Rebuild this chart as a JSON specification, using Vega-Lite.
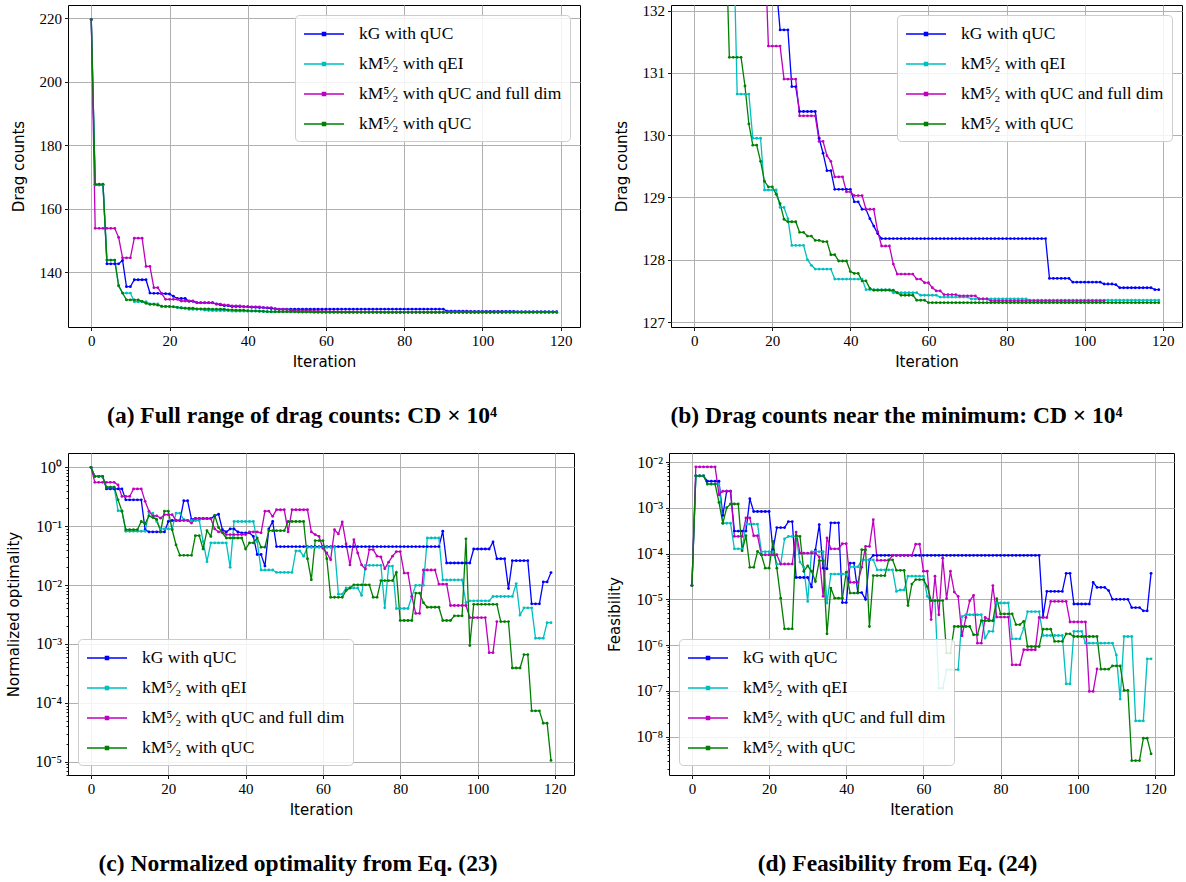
{
  "$schema": "https://vega.github.io/schema/vega-lite/v6.json",
  "background": "white",
  "padding": {"left": 6, "top": 3, "right": 2, "bottom": 2},
  "config": {
    "view": {"stroke": "black", "strokeWidth": 1},
    "axis": {
      "grid": true, "gridColor": "#b0b0b0", "gridWidth": 1,
      "domain": false, "ticks": true, "tickColor": "black", "tickSize": 3.5, "tickWidth": 0.9,
      "labelFont": "Liberation Serif", "labelFontSize": 15, "labelColor": "black", "labelPadding": 3,
      "labelOverlap": false, "labelFlush": false,
      "titleFont": "DejaVu Sans", "titleFontSize": 15, "titleFontWeight": "normal", "titleColor": "black"
    },
    "axisX": {"titlePadding": 6},
    "axisY": {"titlePadding": 13},
    "legend": {
      "offset": 10, "fillColor": "rgba(255,255,255,0.85)", "strokeColor": "#cccccc", "cornerRadius": 4,
      "padding": 8, "labelFont": "Liberation Serif", "labelFontSize": 17.5, "labelColor": "black", "labelLimit": 400,
      "symbolType": "M-1,0H3M0.85,-0.15H1.15V0.15H0.85Z", "symbolSize": 400, "symbolStrokeWidth": 1.5,
      "rowPadding": 10, "labelOffset": 34
    },
    "title": {"font": "Liberation Serif", "fontSize": 23.5, "fontWeight": "bold", "color": "black", "orient": "bottom", "anchor": "middle", "offset": 34}
  },
  "datasets": {
    "drag": [
      {"i":0,"a":219.6,"b":219.6,"c":219.6,"d":219.6},
      {"i":1,"a":167.5,"b":167.5,"c":153.8,"d":167.7},
      {"i":2,"a":167.5,"b":167.5,"c":153.8,"d":167.7},
      {"i":3,"a":167.5,"b":167.5,"c":153.8,"d":167.7},
      {"i":4,"a":142.6,"b":143.8,"c":153.8,"d":143.8},
      {"i":5,"a":142.6,"b":143.8,"c":153.8,"d":143.8},
      {"i":6,"a":142.6,"b":143.8,"c":153.8,"d":143.8},
      {"i":7,"a":142.6,"b":135.7,"c":150.9,"d":135.7},
      {"i":8,"a":143.7,"b":133.4,"c":144.5,"d":133.4},
      {"i":9,"a":135.4,"b":133.4,"c":144.5,"d":131.25},
      {"i":10,"a":135.4,"b":133.4,"c":144.5,"d":131.25},
      {"i":11,"a":137.6,"b":130.66,"c":150.7,"d":131.25},
      {"i":12,"a":137.6,"b":130.66,"c":150.7,"d":131.25},
      {"i":13,"a":137.6,"b":130.66,"c":150.7,"d":130.79},
      {"i":14,"a":137.6,"b":130.66,"c":141.8,"d":130.18},
      {"i":15,"a":133.4,"b":129.95,"c":141.8,"d":129.84},
      {"i":16,"a":133.3,"b":129.95,"c":135.1,"d":129.84},
      {"i":17,"a":133.3,"b":129.95,"c":135.1,"d":129.58},
      {"i":18,"a":133.2,"b":129.12,"c":133.2,"d":129.26},
      {"i":19,"a":133.2,"b":129.12,"c":131.43,"d":129.17},
      {"i":20,"a":133.1,"b":129.12,"c":131.43,"d":129.17},
      {"i":21,"a":132.4,"b":129.12,"c":131.43,"d":129.05},
      {"i":22,"a":131.69,"b":128.84,"c":131.43,"d":128.9},
      {"i":23,"a":131.69,"b":128.84,"c":130.9,"d":128.65},
      {"i":24,"a":131.69,"b":128.66,"c":130.9,"d":128.61},
      {"i":25,"a":130.78,"b":128.23,"c":130.9,"d":128.61},
      {"i":26,"a":130.78,"b":128.23,"c":130.9,"d":128.61},
      {"i":27,"a":130.38,"b":128.23,"c":130.31,"d":128.44},
      {"i":28,"a":130.38,"b":128.23,"c":130.31,"d":128.44},
      {"i":29,"a":130.38,"b":128.0,"c":130.31,"d":128.38},
      {"i":30,"a":130.38,"b":127.91,"c":130.31,"d":128.38},
      {"i":31,"a":130.38,"b":127.85,"c":130.31,"d":128.31},
      {"i":32,"a":129.95,"b":127.85,"c":129.9,"d":128.31},
      {"i":33,"a":129.71,"b":127.85,"c":129.9,"d":128.29},
      {"i":34,"a":129.43,"b":127.85,"c":129.67,"d":128.29},
      {"i":35,"a":129.43,"b":127.85,"c":129.58,"d":128.08},
      {"i":36,"a":129.13,"b":127.69,"c":129.33,"d":128.08},
      {"i":37,"a":129.13,"b":127.69,"c":129.33,"d":127.98},
      {"i":38,"a":129.13,"b":127.69,"c":129.33,"d":127.98},
      {"i":39,"a":129.13,"b":127.69,"c":129.09,"d":127.98},
      {"i":40,"a":129.13,"b":127.69,"c":129.09,"d":127.81},
      {"i":41,"a":128.93,"b":127.69,"c":129.03,"d":127.78},
      {"i":42,"a":128.93,"b":127.69,"c":129.03,"d":127.78},
      {"i":43,"a":128.81,"b":127.69,"c":129.03,"d":127.66},
      {"i":44,"a":128.81,"b":127.52,"c":128.81,"d":127.66},
      {"i":45,"a":128.66,"b":127.52,"c":128.81,"d":127.54},
      {"i":46,"a":128.54,"b":127.52,"c":128.81,"d":127.51},
      {"i":47,"a":128.42,"b":127.52,"c":128.45,"d":127.51},
      {"i":48,"a":128.34,"b":127.52,"c":128.22,"d":127.51},
      {"i":49,"a":128.34,"b":127.52,"c":128.22,"d":127.51},
      {"i":50,"a":128.34,"b":127.52,"c":128.22,"d":127.51},
      {"i":51,"a":128.34,"b":127.47,"c":127.93,"d":127.51},
      {"i":52,"a":128.34,"b":127.47,"c":127.77,"d":127.47},
      {"i":53,"a":128.34,"b":127.47,"c":127.77,"d":127.43},
      {"i":54,"a":128.34,"b":127.47,"c":127.77,"d":127.43},
      {"i":55,"a":128.34,"b":127.47,"c":127.77,"d":127.43},
      {"i":56,"a":128.34,"b":127.47,"c":127.77,"d":127.43},
      {"i":57,"a":128.34,"b":127.47,"c":127.69,"d":127.35},
      {"i":58,"a":128.34,"b":127.43,"c":127.69,"d":127.35},
      {"i":59,"a":128.34,"b":127.43,"c":127.63,"d":127.35},
      {"i":60,"a":128.34,"b":127.43,"c":127.63,"d":127.31},
      {"i":61,"a":128.34,"b":127.43,"c":127.55,"d":127.31},
      {"i":62,"a":128.34,"b":127.43,"c":127.5,"d":127.31},
      {"i":63,"a":128.34,"b":127.4,"c":127.5,"d":127.31},
      {"i":64,"a":128.34,"b":127.4,"c":127.44,"d":127.31},
      {"i":65,"a":128.34,"b":127.4,"c":127.44,"d":127.31},
      {"i":66,"a":128.34,"b":127.4,"c":127.44,"d":127.31},
      {"i":67,"a":128.34,"b":127.4,"c":127.44,"d":127.31},
      {"i":68,"a":128.34,"b":127.4,"c":127.42,"d":127.31},
      {"i":69,"a":128.34,"b":127.4,"c":127.42,"d":127.31},
      {"i":70,"a":128.34,"b":127.4,"c":127.42,"d":127.31},
      {"i":71,"a":128.34,"b":127.37,"c":127.42,"d":127.31},
      {"i":72,"a":128.34,"b":127.37,"c":127.42,"d":127.31},
      {"i":73,"a":128.34,"b":127.37,"c":127.37,"d":127.31},
      {"i":74,"a":128.34,"b":127.37,"c":127.37,"d":127.31},
      {"i":75,"a":128.34,"b":127.37,"c":127.37,"d":127.31},
      {"i":76,"a":128.34,"b":127.37,"c":127.34,"d":127.31},
      {"i":77,"a":128.34,"b":127.37,"c":127.34,"d":127.31},
      {"i":78,"a":128.34,"b":127.37,"c":127.34,"d":127.31},
      {"i":79,"a":128.34,"b":127.37,"c":127.34,"d":127.31},
      {"i":80,"a":128.34,"b":127.37,"c":127.34,"d":127.31},
      {"i":81,"a":128.34,"b":127.37,"c":127.34,"d":127.31},
      {"i":82,"a":128.34,"b":127.37,"c":127.34,"d":127.31},
      {"i":83,"a":128.34,"b":127.37,"c":127.34,"d":127.31},
      {"i":84,"a":128.34,"b":127.37,"c":127.34,"d":127.31},
      {"i":85,"a":128.34,"b":127.37,"c":127.34,"d":127.31},
      {"i":86,"a":128.34,"b":127.35,"c":127.34,"d":127.31},
      {"i":87,"a":128.34,"b":127.35,"c":127.34,"d":127.31},
      {"i":88,"a":128.34,"b":127.35,"c":127.34,"d":127.31},
      {"i":89,"a":128.34,"b":127.35,"c":127.34,"d":127.31},
      {"i":90,"a":128.34,"b":127.35,"c":127.34,"d":127.31},
      {"i":91,"a":127.7,"b":127.35,"c":127.34,"d":127.31},
      {"i":92,"a":127.7,"b":127.35,"c":127.34,"d":127.31},
      {"i":93,"a":127.7,"b":127.35,"c":127.34,"d":127.31},
      {"i":94,"a":127.7,"b":127.35,"c":127.34,"d":127.31},
      {"i":95,"a":127.7,"b":127.35,"c":127.34,"d":127.31},
      {"i":96,"a":127.7,"b":127.35,"c":127.34,"d":127.31},
      {"i":97,"a":127.64,"b":127.35,"c":127.34,"d":127.31},
      {"i":98,"a":127.64,"b":127.35,"c":127.34,"d":127.31},
      {"i":99,"a":127.64,"b":127.35,"c":127.34,"d":127.31},
      {"i":100,"a":127.64,"b":127.35,"c":127.34,"d":127.31},
      {"i":101,"a":127.64,"b":127.35,"c":127.34,"d":127.31},
      {"i":102,"a":127.64,"b":127.35,"c":127.34,"d":127.31},
      {"i":103,"a":127.64,"b":127.35,"c":127.34,"d":127.31},
      {"i":104,"a":127.64,"b":127.35,"c":127.34,"d":127.31},
      {"i":105,"a":127.61,"b":127.35,"c":127.34,"d":127.31},
      {"i":106,"a":127.61,"b":127.35,"d":127.31},
      {"i":107,"a":127.61,"b":127.35,"d":127.31},
      {"i":108,"a":127.6,"b":127.35,"d":127.31},
      {"i":109,"a":127.55,"b":127.35,"d":127.31},
      {"i":110,"a":127.55,"b":127.35,"d":127.31},
      {"i":111,"a":127.55,"b":127.35,"d":127.31},
      {"i":112,"a":127.55,"b":127.35,"d":127.31},
      {"i":113,"a":127.55,"b":127.35,"d":127.31},
      {"i":114,"a":127.55,"b":127.35,"d":127.31},
      {"i":115,"a":127.55,"b":127.35,"d":127.31},
      {"i":116,"a":127.55,"b":127.35,"d":127.31},
      {"i":117,"a":127.55,"b":127.35,"d":127.31},
      {"i":118,"a":127.52,"b":127.35,"d":127.31},
      {"i":119,"a":127.52,"b":127.35,"d":127.31}
    ],
    "opt": [
      {"i":0,"a":1,"b":1,"c":1,"d":1},
      {"i":1,"a":0.7,"b":0.7,"c":0.556,"d":0.7},
      {"i":2,"a":0.7,"b":0.7,"c":0.556,"d":0.7},
      {"i":3,"a":0.7,"b":0.7,"c":0.556,"d":0.7},
      {"i":4,"a":0.43,"b":0.46,"c":0.556,"d":0.46},
      {"i":5,"a":0.43,"b":0.46,"c":0.556,"d":0.46},
      {"i":6,"a":0.43,"b":0.46,"c":0.556,"d":0.46},
      {"i":7,"a":0.43,"b":0.183,"c":0.5,"d":0.28},
      {"i":8,"a":0.43,"b":0.183,"c":0.32,"d":0.18},
      {"i":9,"a":0.28,"b":0.082,"c":0.32,"d":0.087},
      {"i":10,"a":0.28,"b":0.082,"c":0.32,"d":0.087},
      {"i":11,"a":0.28,"b":0.082,"c":0.43,"d":0.087},
      {"i":12,"a":0.28,"b":0.082,"c":0.43,"d":0.087},
      {"i":13,"a":0.28,"b":0.082,"c":0.43,"d":0.12},
      {"i":14,"a":0.087,"b":0.082,"c":0.264,"d":0.11},
      {"i":15,"a":0.08,"b":0.167,"c":0.18,"d":0.15},
      {"i":16,"a":0.08,"b":0.167,"c":0.15,"d":0.14},
      {"i":17,"a":0.08,"b":0.12,"c":0.15,"d":0.13},
      {"i":18,"a":0.08,"b":0.09,"c":0.137,"d":0.08},
      {"i":19,"a":0.08,"b":0.09,"c":0.157,"d":0.18},
      {"i":20,"a":0.12,"b":0.09,"c":0.157,"d":0.18},
      {"i":21,"a":0.125,"b":0.09,"c":0.157,"d":0.087},
      {"i":22,"a":0.125,"b":0.167,"c":0.125,"d":0.048},
      {"i":23,"a":0.125,"b":0.167,"c":0.125,"d":0.032},
      {"i":24,"a":0.27,"b":0.13,"c":0.125,"d":0.032},
      {"i":25,"a":0.27,"b":0.125,"c":0.125,"d":0.032},
      {"i":26,"a":0.13,"b":0.125,"c":0.113,"d":0.032},
      {"i":27,"a":0.135,"b":0.125,"c":0.134,"d":0.069},
      {"i":28,"a":0.135,"b":0.125,"c":0.134,"d":0.069},
      {"i":29,"a":0.135,"b":0.055,"c":0.134,"d":0.041},
      {"i":30,"a":0.135,"b":0.025,"c":0.134,"d":0.084},
      {"i":31,"a":0.135,"b":0.052,"c":0.134,"d":0.067},
      {"i":32,"a":0.15,"b":0.052,"c":0.09,"d":0.153},
      {"i":33,"a":0.16,"b":0.052,"c":0.08,"d":0.095},
      {"i":34,"a":0.087,"b":0.052,"c":0.08,"d":0.077},
      {"i":35,"a":0.08,"b":0.052,"c":0.072,"d":0.063},
      {"i":36,"a":0.09,"b":0.02,"c":0.072,"d":0.063},
      {"i":37,"a":0.09,"b":0.12,"c":0.072,"d":0.063},
      {"i":38,"a":0.08,"b":0.12,"c":0.072,"d":0.063},
      {"i":39,"a":0.077,"b":0.12,"c":0.072,"d":0.063},
      {"i":40,"a":0.077,"b":0.12,"c":0.072,"d":0.041},
      {"i":41,"a":0.077,"b":0.12,"c":0.08,"d":0.052},
      {"i":42,"a":0.067,"b":0.12,"c":0.08,"d":0.052},
      {"i":43,"a":0.033,"b":0.055,"c":0.08,"d":0.063},
      {"i":44,"a":0.033,"b":0.018,"c":0.077,"d":0.044},
      {"i":45,"a":0.021,"b":0.018,"c":0.18,"d":0.044},
      {"i":46,"a":0.09,"b":0.018,"c":0.18,"d":0.084},
      {"i":47,"a":0.12,"b":0.018,"c":0.147,"d":0.084},
      {"i":48,"a":0.045,"b":0.0164,"c":0.19,"d":0.084},
      {"i":49,"a":0.045,"b":0.0164,"c":0.19,"d":0.084},
      {"i":50,"a":0.045,"b":0.0164,"c":0.19,"d":0.084},
      {"i":51,"a":0.045,"b":0.0164,"c":0.08,"d":0.12},
      {"i":52,"a":0.045,"b":0.0164,"c":0.19,"d":0.12},
      {"i":53,"a":0.045,"b":0.038,"c":0.19,"d":0.12},
      {"i":54,"a":0.045,"b":0.038,"c":0.19,"d":0.12},
      {"i":55,"a":0.045,"b":0.031,"c":0.19,"d":0.12},
      {"i":56,"a":0.045,"b":0.0436,"c":0.19,"d":0.028},
      {"i":57,"a":0.045,"b":0.0436,"c":0.08,"d":0.0123},
      {"i":58,"a":0.045,"b":0.0436,"c":0.072,"d":0.057},
      {"i":59,"a":0.045,"b":0.0436,"c":0.067,"d":0.057},
      {"i":60,"a":0.045,"b":0.0436,"c":0.042,"d":0.057},
      {"i":61,"a":0.045,"b":0.0436,"c":0.035,"d":0.028},
      {"i":62,"a":0.045,"b":0.0436,"c":0.027,"d":0.0062},
      {"i":63,"a":0.045,"b":0.0436,"c":0.087,"d":0.0062},
      {"i":64,"a":0.045,"b":0.007,"c":0.074,"d":0.0062},
      {"i":65,"a":0.045,"b":0.007,"c":0.118,"d":0.0062},
      {"i":66,"a":0.045,"b":0.0089,"c":0.05,"d":0.0081},
      {"i":67,"a":0.045,"b":0.0089,"c":0.022,"d":0.0089},
      {"i":68,"a":0.045,"b":0.0089,"c":0.059,"d":0.0101},
      {"i":69,"a":0.045,"b":0.0089,"c":0.035,"d":0.0101},
      {"i":70,"a":0.045,"b":0.0067,"c":0.022,"d":0.0101},
      {"i":71,"a":0.045,"b":0.0216,"c":0.0187,"d":0.0101},
      {"i":72,"a":0.045,"b":0.0216,"c":0.04,"d":0.0101},
      {"i":73,"a":0.045,"b":0.0216,"c":0.04,"d":0.0062},
      {"i":74,"a":0.045,"b":0.0216,"c":0.031,"d":0.0062},
      {"i":75,"a":0.045,"b":0.0216,"c":0.03,"d":0.0119},
      {"i":76,"a":0.045,"b":0.0041,"c":0.019,"d":0.0119},
      {"i":77,"a":0.045,"b":0.021,"c":0.0245,"d":0.0119},
      {"i":78,"a":0.045,"b":0.021,"c":0.031,"d":0.0119},
      {"i":79,"a":0.045,"b":0.004,"c":0.037,"d":0.0164},
      {"i":80,"a":0.045,"b":0.004,"c":0.037,"d":0.0025},
      {"i":81,"a":0.045,"b":0.004,"c":0.016,"d":0.0025},
      {"i":82,"a":0.045,"b":0.004,"c":0.016,"d":0.0025},
      {"i":83,"a":0.045,"b":0.0064,"c":0.0064,"d":0.0025},
      {"i":84,"a":0.045,"b":0.0099,"c":0.0033,"d":0.0073},
      {"i":85,"a":0.045,"b":0.0099,"c":0.0033,"d":0.0073},
      {"i":86,"a":0.045,"b":0.0099,"c":0.018,"d":0.005},
      {"i":87,"a":0.045,"b":0.063,"c":0.018,"d":0.0042},
      {"i":88,"a":0.045,"b":0.063,"c":0.018,"d":0.0042},
      {"i":89,"a":0.045,"b":0.063,"c":0.018,"d":0.0042},
      {"i":90,"a":0.045,"b":0.063,"c":0.0104,"d":0.0042},
      {"i":91,"a":0.082,"b":0.0122,"c":0.0104,"d":0.0025},
      {"i":92,"a":0.0237,"b":0.0122,"c":0.0104,"d":0.0025},
      {"i":93,"a":0.0237,"b":0.0122,"c":0.0045,"d":0.0025},
      {"i":94,"a":0.0237,"b":0.0122,"c":0.0045,"d":0.003},
      {"i":95,"a":0.0237,"b":0.0122,"c":0.0045,"d":0.003},
      {"i":96,"a":0.0237,"b":0.0122,"c":0.0045,"d":0.003},
      {"i":97,"a":0.0237,"b":0.005,"c":0.0045,"d":0.061},
      {"i":98,"a":0.0237,"b":0.0054,"c":0.0028,"d":0.00094},
      {"i":99,"a":0.041,"b":0.0054,"c":0.0028,"d":0.0047},
      {"i":100,"a":0.041,"b":0.0054,"c":0.0028,"d":0.0047},
      {"i":101,"a":0.041,"b":0.0054,"c":0.0028,"d":0.0047},
      {"i":102,"a":0.041,"b":0.0054,"c":0.0028,"d":0.0047},
      {"i":103,"a":0.041,"b":0.0054,"c":0.00071,"d":0.0047},
      {"i":104,"a":0.054,"b":0.0064,"c":0.00071,"d":0.0047},
      {"i":105,"a":0.028,"b":0.0064,"c":0.0024,"d":0.0047},
      {"i":106,"a":0.028,"b":0.0064,"d":0.0024},
      {"i":107,"a":0.028,"b":0.0064,"d":0.0024},
      {"i":108,"a":0.0087,"b":0.0064,"d":0.0024},
      {"i":109,"a":0.026,"b":0.0064,"d":0.00039},
      {"i":110,"a":0.026,"b":0.0106,"d":0.00039},
      {"i":111,"a":0.026,"b":0.0031,"d":0.00039},
      {"i":112,"a":0.026,"b":0.0041,"d":0.00066},
      {"i":113,"a":0.026,"b":0.0041,"d":0.00066},
      {"i":114,"a":0.0048,"b":0.0041,"d":0.000073},
      {"i":115,"a":0.0048,"b":0.00125,"d":0.000073},
      {"i":116,"a":0.0048,"b":0.00125,"d":0.000073},
      {"i":117,"a":0.0113,"b":0.00125,"d":0.000045},
      {"i":118,"a":0.0113,"b":0.0023,"d":0.000045},
      {"i":119,"a":0.0163,"b":0.0023,"d":0.0000105}
    ],
    "feas": [
      {"i":0,"a":2e-5,"b":2e-5,"c":2e-5,"d":2e-5},
      {"i":1,"a":5e-3,"b":5e-3,"c":7.8e-3,"d":5e-3},
      {"i":2,"a":5e-3,"b":5e-3,"c":7.8e-3,"d":5e-3},
      {"i":3,"a":5e-3,"b":5e-3,"c":7.8e-3,"d":5e-3},
      {"i":4,"a":3.8e-3,"b":3.3e-3,"c":7.8e-3,"d":3.3e-3},
      {"i":5,"a":3.8e-3,"b":3.3e-3,"c":7.8e-3,"d":3.3e-3},
      {"i":6,"a":3.8e-3,"b":3.3e-3,"c":7.8e-3,"d":3.3e-3},
      {"i":7,"a":3.8e-3,"b":3.3e-3,"c":1.93e-3,"d":1.31e-3},
      {"i":8,"a":6.8e-4,"b":4.6e-4,"c":2.3e-3,"d":4.6e-4},
      {"i":9,"a":2.3e-3,"b":4.6e-4,"c":2.3e-3,"d":1.0e-3},
      {"i":10,"a":2.3e-3,"b":4.6e-4,"c":2.3e-3,"d":1.21e-3},
      {"i":11,"a":3.1e-4,"b":1.27e-4,"c":2.37e-4,"d":1.21e-3},
      {"i":12,"a":3.1e-4,"b":1.27e-4,"c":2.37e-4,"d":1.21e-3},
      {"i":13,"a":3.1e-4,"b":1.27e-4,"c":2.37e-4,"d":1.15e-4},
      {"i":14,"a":3.1e-4,"b":4.4e-4,"c":6.0e-4,"d":2.45e-4},
      {"i":15,"a":1.58e-3,"b":4.4e-4,"c":6.0e-4,"d":5.0e-5},
      {"i":16,"a":8.3e-4,"b":4.4e-4,"c":2.45e-4,"d":5.0e-5},
      {"i":17,"a":8.3e-4,"b":4.4e-4,"c":2.45e-4,"d":1.11e-4},
      {"i":18,"a":8.3e-4,"b":1.1e-4,"c":9.4e-5,"d":9.4e-5},
      {"i":19,"a":8.3e-4,"b":1.1e-4,"c":9.4e-5,"d":4.8e-5},
      {"i":20,"a":8.3e-4,"b":1.1e-4,"c":9.4e-5,"d":4.8e-5},
      {"i":21,"a":1.2e-4,"b":1.1e-4,"c":9.4e-5,"d":1.84e-4},
      {"i":22,"a":3.7e-4,"b":5.9e-5,"c":9.4e-5,"d":4.8e-5},
      {"i":23,"a":3.7e-4,"b":5.9e-5,"c":5.9e-5,"d":1.06e-5},
      {"i":24,"a":3.7e-4,"b":2.1e-4,"c":5.9e-5,"d":2.27e-6},
      {"i":25,"a":5e-4,"b":2.37e-4,"c":5.9e-5,"d":2.27e-6},
      {"i":26,"a":5e-4,"b":2.37e-4,"c":5.9e-5,"d":2.27e-6},
      {"i":27,"a":3e-5,"b":2.37e-4,"c":2.95e-4,"d":2.45e-4},
      {"i":28,"a":3e-5,"b":6.5e-5,"c":1.02e-4,"d":2.37e-4},
      {"i":29,"a":3e-5,"b":5.0e-5,"c":1.02e-4,"d":4.1e-5},
      {"i":30,"a":3e-5,"b":9.0e-6,"c":1.02e-4,"d":5.4e-5},
      {"i":31,"a":1.85e-5,"b":1.1e-4,"c":1.02e-4,"d":4.1e-5},
      {"i":32,"a":1.2e-4,"b":1.1e-4,"c":1.02e-4,"d":2.46e-5},
      {"i":33,"a":4.3e-4,"b":1.1e-4,"c":8.4e-5,"d":7.0e-5},
      {"i":34,"a":4.8e-5,"b":1.1e-4,"c":1.16e-5,"d":7.0e-5},
      {"i":35,"a":4.66e-5,"b":8.3e-6,"c":2.2e-4,"d":1.76e-6},
      {"i":36,"a":4.7e-4,"b":3.56e-5,"c":1.27e-4,"d":1.76e-5},
      {"i":37,"a":4.7e-4,"b":3.56e-5,"c":1.27e-4,"d":1.06e-5},
      {"i":38,"a":4.7e-4,"b":3.56e-5,"c":1.27e-4,"d":1.06e-5},
      {"i":39,"a":8.5e-6,"b":3.56e-5,"c":1.64e-4,"d":1.06e-5},
      {"i":40,"a":8.5e-6,"b":3.56e-5,"c":1.64e-4,"d":3.9e-5},
      {"i":41,"a":6.2e-5,"b":5.1e-5,"c":2.34e-5,"d":1.37e-5},
      {"i":42,"a":6.2e-5,"b":5.1e-5,"c":2.34e-5,"d":1.37e-5},
      {"i":43,"a":1.4e-5,"b":5.1e-5,"c":2.34e-5,"d":1.37e-5},
      {"i":44,"a":1.4e-5,"b":7.3e-5,"c":5.0e-5,"d":1.21e-4},
      {"i":45,"a":1.0e-5,"b":7.3e-5,"c":1.43e-4,"d":1.21e-4},
      {"i":46,"a":7.3e-5,"b":7.3e-5,"c":1.43e-4,"d":2.55e-6},
      {"i":47,"a":9.1e-5,"b":7.3e-5,"c":5.5e-4,"d":3.3e-5},
      {"i":48,"a":9.1e-5,"b":4.4e-5,"c":7.1e-5,"d":3.3e-5},
      {"i":49,"a":9.1e-5,"b":4.4e-5,"c":7.1e-5,"d":3.3e-5},
      {"i":50,"a":9.1e-5,"b":4.4e-5,"c":7.1e-5,"d":3.3e-5},
      {"i":51,"a":9.1e-5,"b":4.4e-5,"c":7.1e-5,"d":7.3e-5},
      {"i":52,"a":9.1e-5,"b":4.4e-5,"c":9.1e-5,"d":7.3e-5},
      {"i":53,"a":9.1e-5,"b":1.49e-5,"c":9.1e-5,"d":4.3e-5},
      {"i":54,"a":9.1e-5,"b":1.6e-5,"c":9.1e-5,"d":4.3e-5},
      {"i":55,"a":9.1e-5,"b":1.6e-5,"c":9.1e-5,"d":4.3e-5},
      {"i":56,"a":9.1e-5,"b":3.2e-5,"c":9.1e-5,"d":7.3e-6},
      {"i":57,"a":9.1e-5,"b":3.2e-5,"c":9.1e-5,"d":2.15e-5},
      {"i":58,"a":9.1e-5,"b":3.2e-5,"c":1.6e-4,"d":2.7e-5},
      {"i":59,"a":9.1e-5,"b":3.2e-5,"c":1.6e-4,"d":2.7e-5},
      {"i":60,"a":9.1e-5,"b":3.2e-5,"c":4.1e-5,"d":2.7e-5},
      {"i":61,"a":9.1e-5,"b":1.16e-5,"c":4.1e-5,"d":1.9e-5},
      {"i":62,"a":9.1e-5,"b":9.3e-6,"c":3.6e-6,"d":9.4e-6},
      {"i":63,"a":9.1e-5,"b":9.3e-6,"c":3.2e-5,"d":9.4e-6},
      {"i":64,"a":9.1e-5,"b":1.14e-7,"c":4.6e-6,"d":9.4e-6},
      {"i":65,"a":9.1e-5,"b":1.14e-7,"c":7.9e-5,"d":9.4e-6},
      {"i":66,"a":9.1e-5,"b":2.9e-7,"c":1.03e-5,"d":6.7e-7},
      {"i":67,"a":9.1e-5,"b":2.9e-7,"c":4.1e-5,"d":6.7e-7},
      {"i":68,"a":9.1e-5,"b":2.9e-7,"c":1.44e-5,"d":2.55e-6},
      {"i":69,"a":9.1e-5,"b":2.9e-7,"c":1.16e-5,"d":2.55e-6},
      {"i":70,"a":9.1e-5,"b":4.2e-6,"c":1.6e-6,"d":2.55e-6},
      {"i":71,"a":9.1e-5,"b":4.6e-6,"c":4.0e-6,"d":2.55e-6},
      {"i":72,"a":9.1e-5,"b":4.6e-6,"c":9.3e-6,"d":2.55e-6},
      {"i":73,"a":9.1e-5,"b":4.6e-6,"c":1.22e-5,"d":1.68e-6},
      {"i":74,"a":9.1e-5,"b":4.6e-6,"c":1.1e-6,"d":1.68e-6},
      {"i":75,"a":9.1e-5,"b":4.6e-6,"c":1.1e-6,"d":3.4e-6},
      {"i":76,"a":9.1e-5,"b":1.42e-6,"c":4.0e-6,"d":3.4e-6},
      {"i":77,"a":9.1e-5,"b":2.0e-6,"c":3.6e-6,"d":3.4e-6},
      {"i":78,"a":9.1e-5,"b":2.0e-6,"c":2.0e-5,"d":3.4e-6},
      {"i":79,"a":9.1e-5,"b":8.3e-6,"c":4.1e-6,"d":1.03e-5},
      {"i":80,"a":9.1e-5,"b":8.3e-6,"c":4.1e-6,"d":4.8e-6},
      {"i":81,"a":9.1e-5,"b":8.3e-6,"c":4.1e-6,"d":4.8e-6},
      {"i":82,"a":9.1e-5,"b":8.3e-6,"c":4.1e-6,"d":4.8e-6},
      {"i":83,"a":9.1e-5,"b":1.37e-6,"c":3.7e-7,"d":4.8e-6},
      {"i":84,"a":9.1e-5,"b":1.37e-6,"c":3.7e-7,"d":2.8e-6},
      {"i":85,"a":9.1e-5,"b":1.37e-6,"c":3.7e-7,"d":2.8e-6},
      {"i":86,"a":9.1e-5,"b":2.35e-6,"c":7.9e-7,"d":3.3e-6},
      {"i":87,"a":9.1e-5,"b":5.4e-6,"c":7.9e-7,"d":9.3e-7},
      {"i":88,"a":9.1e-5,"b":5.4e-6,"c":7.9e-7,"d":9.3e-7},
      {"i":89,"a":9.1e-5,"b":5.4e-6,"c":7.9e-7,"d":9.3e-7},
      {"i":90,"a":9.1e-5,"b":5.4e-6,"c":4.0e-6,"d":9.3e-7},
      {"i":91,"a":4.2e-6,"b":1.62e-6,"c":4.0e-6,"d":2.23e-6},
      {"i":92,"a":1.49e-5,"b":1.62e-6,"c":4.0e-6,"d":2.23e-6},
      {"i":93,"a":1.49e-5,"b":1.62e-6,"c":9.0e-6,"d":2.23e-6},
      {"i":94,"a":1.49e-5,"b":1.62e-6,"c":9.0e-6,"d":1.2e-6},
      {"i":95,"a":1.49e-5,"b":1.62e-6,"c":9.0e-6,"d":1.2e-6},
      {"i":96,"a":1.49e-5,"b":1.62e-6,"c":9.0e-6,"d":1.2e-6},
      {"i":97,"a":3.7e-5,"b":1.42e-7,"c":9.0e-6,"d":1.76e-6},
      {"i":98,"a":3.7e-5,"b":1.42e-7,"c":3.2e-6,"d":1.76e-6},
      {"i":99,"a":7.9e-6,"b":2.0e-6,"c":3.2e-6,"d":1.54e-6},
      {"i":100,"a":7.9e-6,"b":2.0e-6,"c":3.2e-6,"d":1.54e-6},
      {"i":101,"a":7.9e-6,"b":2.0e-6,"c":3.2e-6,"d":1.54e-6},
      {"i":102,"a":7.9e-6,"b":1.1e-6,"c":3.2e-6,"d":1.54e-6},
      {"i":103,"a":7.9e-6,"b":1.1e-6,"c":9.7e-8,"d":1.54e-6},
      {"i":104,"a":2.34e-5,"b":1.1e-6,"c":9.7e-8,"d":1.54e-6},
      {"i":105,"a":1.82e-5,"b":1.1e-6,"c":3.0e-7,"d":1.54e-6},
      {"i":106,"a":1.82e-5,"b":1.1e-6,"d":2.98e-7},
      {"i":107,"a":1.82e-5,"b":1.1e-6,"d":2.98e-7},
      {"i":108,"a":1.55e-5,"b":1.1e-6,"d":2.98e-7},
      {"i":109,"a":1.0e-5,"b":1.1e-6,"d":3.5e-7},
      {"i":110,"a":1.0e-5,"b":6.1e-7,"d":3.5e-7},
      {"i":111,"a":1.0e-5,"b":6.6e-8,"d":3.5e-7},
      {"i":112,"a":1.0e-5,"b":1.54e-6,"d":1.02e-7},
      {"i":113,"a":1.0e-5,"b":1.54e-6,"d":1.02e-7},
      {"i":114,"a":6.6e-6,"b":1.54e-6,"d":3.0e-9},
      {"i":115,"a":6.6e-6,"b":2.2e-8,"d":3.0e-9},
      {"i":116,"a":6.6e-6,"b":2.2e-8,"d":3.0e-9},
      {"i":117,"a":5.6e-6,"b":2.2e-8,"d":9.2e-9},
      {"i":118,"a":5.6e-6,"b":5.0e-7,"d":9.2e-9},
      {"i":119,"a":3.7e-5,"b":5.0e-7,"d":4.2e-9}
    ]
  },
  "resolve": {"scale": {"x": "independent", "y": "independent", "color": "independent"}, "legend": {"color": "independent"}, "axis": {"x": "independent", "y": "independent"}},
  "spacing": 24,
  "vconcat": [
    {
      "hconcat": [
        {
          "width": 512, "height": 322,
          "data": {"name": "drag"},
          "transform": [{"fold": ["a", "b", "c", "d"], "as": ["s", "v"]}, {"filter": "isValid(datum.v)"}],
          "title": {"text": "(a) Full range of drag counts: CD × 10⁴", "frame": "group", "dx": -22},
          "mark": {"type": "line", "strokeWidth": 1.3, "clip": true, "point": {"filled": true, "size": 8}},
          "encoding": {
            "x": {"field": "i", "type": "quantitative", "scale": {"domain": [-5.95, 124.95], "nice": false, "zero": false}, "axis": {"values": [0, 20, 40, 60, 80, 100, 120], "title": "Iteration"}},
            "y": {"field": "v", "type": "quantitative", "scale": {"domain": [122.7, 224.2], "nice": false, "zero": false}, "axis": {"values": [140, 160, 180, 200, 220], "title": "Drag counts"}},
            "color": {"field": "s", "type": "nominal", "scale": {"domain": ["a", "b", "c", "d"], "range": ["#0000ff", "#00bfbf", "#bf00bf", "#008000"]},
              "legend": {"orient": "top-right", "title": null, "labelExpr": "datum.label == 'a' ? 'kG with qUC' : datum.label == 'b' ? 'kM⁵⁄₂ with qEI' : datum.label == 'c' ? 'kM⁵⁄₂ with qUC and full dim' : 'kM⁵⁄₂ with qUC'"}}
          }
        },
        {
          "width": 511, "height": 322,
          "data": {"name": "drag"},
          "transform": [{"fold": ["a", "b", "c", "d"], "as": ["s", "v"]}, {"filter": "isValid(datum.v)"}],
          "title": {"text": "(b) Drag counts near the minimum: CD × 10⁴", "frame": "group", "dx": -30},
          "mark": {"type": "line", "strokeWidth": 1.3, "clip": true, "point": {"filled": true, "size": 8, "clip": true}},
          "encoding": {
            "x": {"field": "i", "type": "quantitative", "scale": {"domain": [-5.95, 124.95], "nice": false, "zero": false}, "axis": {"values": [0, 20, 40, 60, 80, 100, 120], "title": "Iteration"}},
            "y": {"field": "v", "type": "quantitative", "scale": {"domain": [126.92, 132.09], "nice": false, "zero": false}, "axis": {"values": [127, 128, 129, 130, 131, 132], "title": "Drag counts"}},
            "color": {"field": "s", "type": "nominal", "scale": {"domain": ["a", "b", "c", "d"], "range": ["#0000ff", "#00bfbf", "#bf00bf", "#008000"]},
              "legend": {"orient": "top-right", "title": null, "labelExpr": "datum.label == 'a' ? 'kG with qUC' : datum.label == 'b' ? 'kM⁵⁄₂ with qEI' : datum.label == 'c' ? 'kM⁵⁄₂ with qUC and full dim' : 'kM⁵⁄₂ with qUC'"}}
          }
        }
      ],
      "spacing": 32,
      "resolve": {"scale": {"x": "independent", "y": "independent", "color": "independent"}, "legend": {"color": "independent"}, "axis": {"x": "independent", "y": "independent"}}
    },
    {
      "hconcat": [
        {
          "width": 506, "height": 322,
          "data": {"name": "opt"},
          "transform": [{"fold": ["a", "b", "c", "d"], "as": ["s", "v"]}, {"filter": "isValid(datum.v)"}],
          "title": {"text": "(c) Normalized optimality from Eq. (23)", "frame": "group", "dx": -23},
          "mark": {"type": "line", "strokeWidth": 1.3, "clip": true, "point": {"filled": true, "size": 8}},
          "encoding": {
            "x": {"field": "i", "type": "quantitative", "scale": {"domain": [-5.95, 124.95], "nice": false, "zero": false}, "axis": {"values": [0, 20, 40, 60, 80, 100, 120], "title": "Iteration"}},
            "y": {"field": "v", "type": "quantitative", "scale": {"type": "log", "domain": [5.94e-6, 1.75], "nice": false},
              "axis": {"title": "Normalized optimality", "labelFontSize": 16,
                "values": [6e-6, 7e-6, 8e-6, 9e-6, 1e-5, 2e-5, 3e-5, 4e-5, 5e-5, 6e-5, 7e-5, 8e-5, 9e-5, 1e-4, 2e-4, 3e-4, 4e-4, 5e-4, 6e-4, 7e-4, 8e-4, 9e-4, 1e-3, 2e-3, 3e-3, 4e-3, 5e-3, 6e-3, 7e-3, 8e-3, 9e-3, 1e-2, 2e-2, 3e-2, 4e-2, 5e-2, 6e-2, 7e-2, 8e-2, 9e-2, 0.1, 0.2, 0.3, 0.4, 0.5, 0.6, 0.7, 0.8, 0.9, 1],
                "labelExpr": "abs(log(datum.value)/LN10 - round(log(datum.value)/LN10)) < 0.001 ? (round(log(datum.value)/LN10) == 0 ? '10⁰' : '10⁻' + ['', '¹', '²', '³', '⁴', '⁵', '⁶', '⁷', '⁸', '⁹'][-round(log(datum.value)/LN10)]) : ''",
                "gridOpacity": {"condition": {"test": "abs(log(datum.value)/LN10 - round(log(datum.value)/LN10)) < 0.001", "value": 1}, "value": 0},
                "tickSize": {"condition": {"test": "abs(log(datum.value)/LN10 - round(log(datum.value)/LN10)) < 0.001", "value": 3.5}, "value": 2}}},
            "color": {"field": "s", "type": "nominal", "scale": {"domain": ["a", "b", "c", "d"], "range": ["#0000ff", "#00bfbf", "#bf00bf", "#008000"]},
              "legend": {"orient": "bottom-left", "title": null, "labelExpr": "datum.label == 'a' ? 'kG with qUC' : datum.label == 'b' ? 'kM⁵⁄₂ with qEI' : datum.label == 'c' ? 'kM⁵⁄₂ with qUC and full dim' : 'kM⁵⁄₂ with qUC'"}}
          }
        },
        {
          "width": 505, "height": 322,
          "data": {"name": "feas"},
          "transform": [{"fold": ["a", "b", "c", "d"], "as": ["s", "v"]}, {"filter": "isValid(datum.v)"}],
          "title": {"text": "(d) Feasibility from Eq. (24)", "frame": "group", "dx": -24},
          "mark": {"type": "line", "strokeWidth": 1.3, "clip": true, "point": {"filled": true, "size": 8}},
          "encoding": {
            "x": {"field": "i", "type": "quantitative", "scale": {"domain": [-5.95, 124.95], "nice": false, "zero": false}, "axis": {"values": [0, 20, 40, 60, 80, 100, 120], "title": "Iteration"}},
            "y": {"field": "v", "type": "quantitative", "scale": {"type": "log", "domain": [1.45e-9, 0.01574], "nice": false},
              "axis": {"title": "Feasibility", "labelFontSize": 16,
                "values": [2e-9, 3e-9, 4e-9, 5e-9, 6e-9, 7e-9, 8e-9, 9e-9, 1e-8, 2e-8, 3e-8, 4e-8, 5e-8, 6e-8, 7e-8, 8e-8, 9e-8, 1e-7, 2e-7, 3e-7, 4e-7, 5e-7, 6e-7, 7e-7, 8e-7, 9e-7, 1e-6, 2e-6, 3e-6, 4e-6, 5e-6, 6e-6, 7e-6, 8e-6, 9e-6, 1e-5, 2e-5, 3e-5, 4e-5, 5e-5, 6e-5, 7e-5, 8e-5, 9e-5, 1e-4, 2e-4, 3e-4, 4e-4, 5e-4, 6e-4, 7e-4, 8e-4, 9e-4, 1e-3, 2e-3, 3e-3, 4e-3, 5e-3, 6e-3, 7e-3, 8e-3, 9e-3, 1e-2],
                "labelExpr": "abs(log(datum.value)/LN10 - round(log(datum.value)/LN10)) < 0.001 ? (round(log(datum.value)/LN10) == 0 ? '10⁰' : '10⁻' + ['', '¹', '²', '³', '⁴', '⁵', '⁶', '⁷', '⁸', '⁹'][-round(log(datum.value)/LN10)]) : ''",
                "gridOpacity": {"condition": {"test": "abs(log(datum.value)/LN10 - round(log(datum.value)/LN10)) < 0.001", "value": 1}, "value": 0},
                "tickSize": {"condition": {"test": "abs(log(datum.value)/LN10 - round(log(datum.value)/LN10)) < 0.001", "value": 3.5}, "value": 2}}},
            "color": {"field": "s", "type": "nominal", "scale": {"domain": ["a", "b", "c", "d"], "range": ["#0000ff", "#00bfbf", "#bf00bf", "#008000"]},
              "legend": {"orient": "bottom-left", "title": null, "labelExpr": "datum.label == 'a' ? 'kG with qUC' : datum.label == 'b' ? 'kM⁵⁄₂ with qEI' : datum.label == 'c' ? 'kM⁵⁄₂ with qUC and full dim' : 'kM⁵⁄₂ with qUC'"}}
          }
        }
      ],
      "spacing": 32,
      "resolve": {"scale": {"x": "independent", "y": "independent", "color": "independent"}, "legend": {"color": "independent"}, "axis": {"x": "independent", "y": "independent"}}
    }
  ]
}
